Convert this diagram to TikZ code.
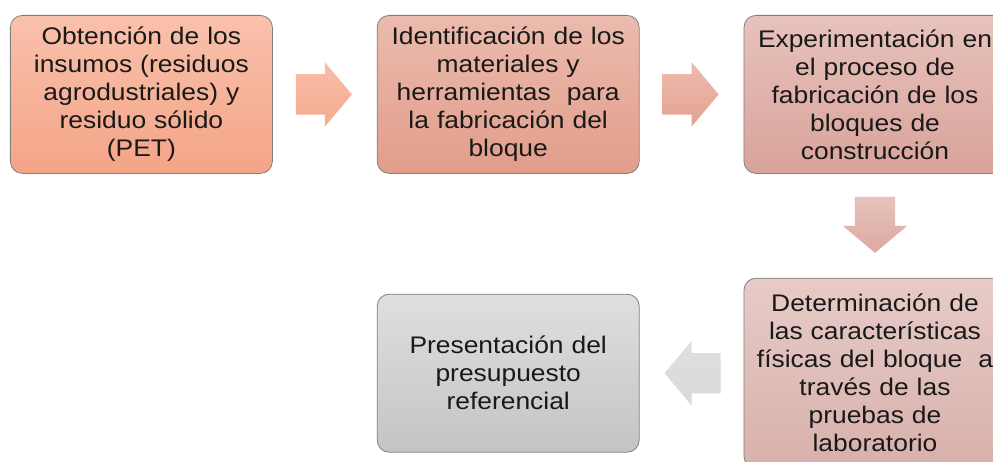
\documentclass[tikz,border=0pt]{standalone}
\usepackage{fontspec}
\setmainfont{Liberation Sans}[FakeStretch=1.1]
\usepackage{tikz}
\usetikzlibrary{matrix}
\usetikzlibrary{shapes.arrows}
\definecolor{salmonT}{RGB}{249,193,172}
\definecolor{salmonB}{RGB}{244,164,135}
\definecolor{roseT}{RGB}{235,187,174}
\definecolor{roseB}{RGB}{226,157,138}
\definecolor{mauveT}{RGB}{231,194,188}
\definecolor{mauveB}{RGB}{217,163,154}
\definecolor{pinkT}{RGB}{231,203,199}
\definecolor{pinkB}{RGB}{216,176,171}
\definecolor{greyT}{RGB}{223,223,223}
\definecolor{greyB}{RGB}{196,196,196}
\definecolor{edge}{RGB}{128,128,128}

\tikzset{
  stage/.style={draw=edge, line width=0.8pt, rounded corners=12pt, anchor=center,
    minimum width=262pt, minimum height=158pt, text width=240pt, align=center,
    inner sep=0pt, font=\fontsize{24}{28}\selectfont, text=black!90},
  flow/.style={single arrow, draw=none, minimum height=56pt, inner xsep=0pt,
    inner ysep=20pt, single arrow head extend=12pt, single arrow tip angle=100,
    pos=0.22, anchor=tail},
  flowdown/.style={flow, inner xsep=20pt, inner ysep=0pt, shape border rotate=270}
}

\begin{document}
\begin{tikzpicture}[x=1pt,y=1pt]
  \useasboundingbox (0,0) rectangle (993,461);
  \clip (0,0) rectangle (993,461);
  \matrix (m) [matrix of nodes, column sep=104pt, row sep=104pt, nodes={stage},
    matrix anchor=m-1-1.north west] at (10,446)
  {
    |[top color=salmonT,bottom color=salmonB]| {Obtención de los\\insumos (residuos\\agrodustriales) y\\residuo sólido\\(PET)} &
    |[top color=roseT,bottom color=roseB]| {Identificación de los\\materiales y\\herramientas\ \ para\\la fabricación del\\bloque} &
    |[top color=mauveT,bottom color=mauveB]| {Experimentación en\\el proceso de\\fabricación de los\\bloques de\\construcción} \\
    &
    |[top color=greyT,bottom color=greyB]| {Presentación del\\presupuesto\\referencial} &
    |[top color=pinkT,bottom color=pinkB,minimum height=190pt]| {Determinación de\\las características\\físicas del bloque\ \ a\\través de las\\pruebas de\\laboratorio} \\
  };
  \path (m-1-1.east) -- (m-1-2.west) node [flow,top color=salmonT!90!salmonB,bottom color=salmonB!80!salmonT] {};
  \path (m-1-2.east) -- (m-1-3.west) node [flow,top color=roseT,bottom color=roseB!80!roseT] {};
  \path (m-1-3.south) -- (m-2-3.north) node [flowdown,top color=mauveT,bottom color=mauveB!80!mauveT] {};
  \path (m-2-3.west) -- (m-2-2.east) node [flow,shape border rotate=180,top color=greyT,bottom color=greyT!80!greyB] {};
\end{tikzpicture}
\end{document}
